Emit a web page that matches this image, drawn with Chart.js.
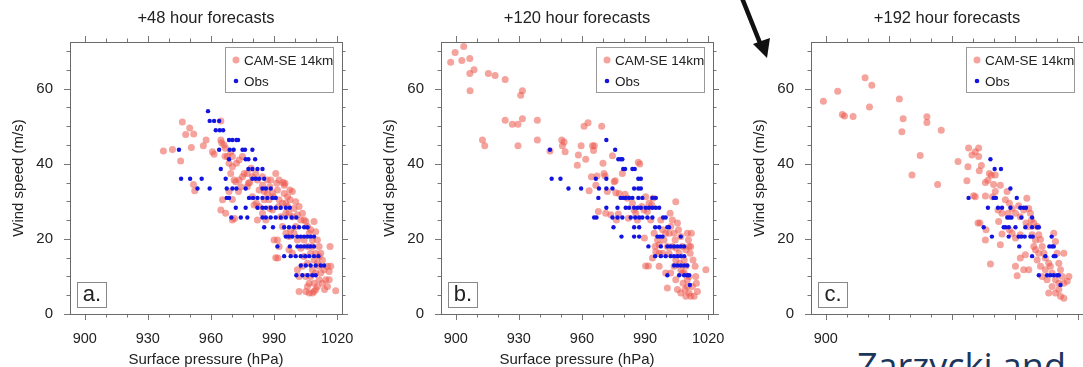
<!DOCTYPE html>
<html>
<head>
<meta charset="utf-8">
<script src="https://cdn.jsdelivr.net/npm/chart.js@4.4.1/dist/chart.umd.min.js"></script>
<style>
  body { margin:0; width:1083px; height:367px; overflow:hidden; background:#fff; position:relative; }
  canvas { position:absolute; top:0; }
  #cover { position:absolute; left:846px; top:323px; width:240px; height:44px; background:#fff; }
  #note { position:absolute; left:857px; top:348px; font-family:'Open Sans'; font-size:36px; line-height:1; color:#1b365d; white-space:nowrap; }
  #arrow { position:absolute; left:0; top:0; }
</style>
</head>
<body>
<canvas id="pa" width="372" height="367" style="left:0px"></canvas>
<canvas id="pb" width="372" height="367" style="left:371px"></canvas>
<canvas id="pc" width="372" height="367" style="left:741px"></canvas>
<div id="cover"></div>
<div id="note">Zarzycki and</div>
<svg id="arrow" width="1083" height="367">
  <line x1="742" y1="-2" x2="760" y2="43" stroke="#111" stroke-width="4.5"/>
  <polygon points="753,44 770,38 767,58" fill="#111"/>
</svg>
<script>
const titles = ["+48 hour forecasts", "+120 hour forecasts", "+192 hour forecasts"];
const panelLabels = ["a.", "b.", "c."];
const seriesNames = ["CAM-SE 14km", "Obs"];
const xTicks = [900, 930, 960, 990, 1020];
const yTicks = [0, 20, 40, 60];
const xMinor = [900, 910, 920, 930, 940, 950, 960, 970, 980, 990, 1000, 1010, 1020];
const yMinor = [0, 5, 10, 15, 20, 25, 30, 35, 40, 45, 50, 55, 60, 65, 70];

// panel a: +48 h  [pressure hPa, wind m/s]
const camA = [[937.4,43.4],[941.7,43.8],[945.6,40.7],[946.4,51.1],[948,47.8],[949.9,49.5],[951.8,47.9],[950.7,44.3],[951.7,34.5],[952.3,32.8],[956.4,44.8],[957.7,46.3],[960.7,43.2],[961.5,42.5],[964.7,51.4],[964.7,46.3],[965.1,45.6],[964.7,27.7],[966.2,45],[966.7,42],
[967.8,41.9],[968.6,40.1],[969.4,37.4],[970.2,39.2],[971,35.7],[971.8,35.2],[972.1,40.1],[973.4,35.7],[973.1,32.6],[974.2,33.9],[975,36.5],[975.8,37.4],[977.3,37.4],[977.8,34.8],[978.4,35],[979.1,38.8],[979.7,36.5],[981.3,37.4],[982.1,35.7],[982.9,33],[984.5,34.3],[985.3,32.6],[986.8,32.1],[988,33.9],[989.2,32.3],[989.7,31.2],[990.8,37.4],[991.3,34.8],[991.6,33],[992.4,30.4],[994,29.5],[994.8,34.3],[995.6,29.5],[996.4,28.6],[997.1,26.8],[997.6,30.4],[998.7,32.6],[999.5,28.1],[1000.3,29.9],[1001.1,26.4],[1001.9,28.6],[1002.7,25],[1003.5,26.8],[1004.3,25],[1005.1,24.6],[1005.9,23.3],[1006.7,21.5],[1007.4,22.4],[1008.2,19.7],[1009,24.6],[1009.8,21.9],[1010.6,19.7],[1011.4,18],[1012.2,16.2],[1013,14.4],[1013.8,11.8],[1015.4,12.7],[1016.2,9.1],[1009,8.2],[1006.7,5.6],[1008.2,5.6],[1009.8,6.5],[1010.6,7.3],[1011.4,9.1],[1007.4,10],[1008.2,11.8],[1005.1,10],[1003.5,12.7],[1001.9,10],[1001.1,11.8],[998.7,16.2],[997.1,17.1],[995.6,21.5],[994,23.3],[991.6,19.7],[992.4,18],[991.8,14.9],[988,28.1],[986.1,25],[984.5,26.8],[982.1,25],[981.6,29.5],[979.7,31.2],[977.3,33.9],[970.2,30.5],[968.6,32.6],[965.5,30.4],[967,26.8],[971.2,25.4],
[1004.3,19.7],[1005.9,18],[1007.4,16.2],[1009,14.4],[1010.6,13.5],[1012.2,10.9],[1009.8,10.9],[1011.4,12.7],[1005.9,13.5],[1004.3,15.3],[1002.7,17.5],[1001.1,19.7],[999.5,21.5],[997.9,22.4],[997.1,20.6],[1000.3,23.3],[1006.7,8.2],[1009,6],[1013,8.2],[1014.6,9.1],[1008.2,18],[1009.8,16.2],[1011.4,15.3],[998.7,25.9],[995.6,26.8],[993.2,25.9],[994.8,32.1],[995.2,34.8],[996.4,31.2],[997.5,33],[992.1,28.6],[989.2,27.7],[987.6,30.4],[985.3,30.4],[982.9,28.6],[980.5,29],[973.4,41],[975,41.9],[970.2,41.9],[969.4,43.2],[966.9,44.1],[970.2,25],[990.8,15],[990,19.7],[1001.9,6],[1005.1,6],[1005.9,7.3],[1019.3,6.2],[1016.6,18],[1014,6.5],[1016.9,12.7],[1016.2,11.3],[1015.4,7.3],[984.5,36.5],[986.8,35.7],[988.4,35.7],[992.4,35.7],[994.3,35]];
const obsA = [[958.6,54],
[959.4,51.4],[961.5,51.4],[963.9,51.4],
[962.3,48.9],[964.2,48.9],[965.8,48.9],
[968.6,46.3],[970.2,46.3],[972.1,46.3],[972.9,46.3],
[944.8,43.7],[963.9,43.7],[968.9,43.7],[970.8,43.7],[975,43.7],[976.2,43.7],[979.7,43.7],
[968.6,41.2],[976.5,41.2],[977.8,41.2],[981,41.2],
[964.7,38.6],[977.8,38.6],[979.7,38.6],[982.1,38.6],[984.5,38.6],
[945.8,36],[950.1,36],[955.6,36],[967,36],[979.7,36],[981.3,36],[982.9,36],[985.3,36],
[953.6,33.4],[959.4,33.4],[967.5,33.4],[970.2,33.4],[972.1,33.4],[976.5,33.4],[984.5,33.4],[986.1,33.4],[988.4,33.4],
[967.5,30.9],[968.6,30.9],[978.1,30.9],[980,30.9],[982.1,30.9],[984.5,30.9],[986.8,30.9],[989.2,30.9],[990.8,30.9],
[971.8,28.3],[976.5,28.3],[982.1,28.3],[984.5,28.3],[986.1,28.3],[988.4,28.3],[990.8,28.3],[993.2,28.3],[995.6,28.3],[997.5,28.3],
[969.7,25.7],[974.2,25.7],[977.3,25.7],[984.5,25.7],[986.1,25.7],[988.4,25.7],[990.8,25.7],[993.2,25.7],[995.6,25.7],[998.4,25.7],[1000.6,25.7],
[985.3,23.1],[989.5,23.1],[994.8,23.1],[997.1,23.1],[999.5,23.1],[1001.9,23.1],[1004.3,23.1],[1005.9,23.1],
[995.6,20.6],[997.1,20.6],[998.7,20.6],[1001.1,20.6],[1002.7,20.6],[1004.3,20.6],[1005.9,20.6],[1007.4,20.6],[1009,20.6],
[991.6,18],[997.5,18],[1001.1,18],[1002.7,18],[1004.3,18],[1005.9,18],[1007.4,18],[1009,18],
[994.8,15.4],[997.9,15.4],[1000.3,15.4],[1002.7,15.4],[1004.8,15.4],[1006.7,15.4],[1009,15.4],[1011.1,15.4],
[1002.7,12.9],[1005.1,12.9],[1007.4,12.9],[1009.8,12.9],[1012.2,12.9],[1013.8,12.9],
[1000.6,10.3],[1003.5,10.3],[1005.9,10.3],[1008.2,10.3],[1009.8,10.3]];

// panel b: +120 h
const camB = [[897.6,67],[899.7,69.6],[902.9,67.5],[903.8,71.2],[906.7,68],[906.7,64],[906.8,59.4],[908.7,65],[912.7,46.3],[913.8,44.8],[915.5,64],[918.7,63.5],[923.5,62.4],[923.5,51.6],[926.9,50.5],[929.6,50.5],[929.6,44.8],[930.9,58.2],[931.7,59.4],[931.7,52],[938.8,51.6],[938.8,46.3],[944.8,43.4],
[950.4,46.3],[950.7,44.8],[951.5,45.8],[952,43.2],[957.8,39.6],[958.3,42.3],[959.6,44.8],[961,50],[962.9,50.9],[961.8,41.2],[963.4,32.8],[964.5,36.5],[965,44.8],[965.5,43.5],[965.9,44.8],[966.6,34.3],[967.2,36.7],[967.8,27.3],[969.4,50],[970,40.1],[970.5,37.4],[971,36.7],[971.3,26.8],[972.1,32.6],[973.7,26.4],[974.5,42.1],[975.3,35.2],[975.8,35.5],[976.1,32.3],[976.4,25],[977.3,26.6],[977.7,32.1],[979.2,37.4],[980.5,31.9],[981.6,30.8],[982.1,25.5],[984,29.5],[984.8,27.7],[985.6,26.8],[986.4,25],[986.8,40.4],[987.5,39.9],[988.4,28.6],[989.5,27.7],[989.7,20.2],[990.3,31.2],[991.1,27.3],[991.9,29.5],[992.7,25],[993.2,29],[993.8,30.8],[994.3,21.5],
[990.3,12.8],[991.6,12.8],[993.5,14.9],[995.1,16.6],[996.7,18.4],[996.7,12.7],[997.5,25],[998.3,22.4],[999,19.7],[999.8,21.5],[1000.6,18],[1000.6,6.9],[1001.4,16.2],[1001.9,26.8],[1002.2,23.3],[1003,25],[1003.8,21.5],[1004.3,19.7],[1004.6,29.9],[1004.9,17.5],[1005.4,24.2],[1005.9,22.4],[1006.2,16.2],[1006.5,13.5],[1007,20.6],[1007.8,18],[1007.8,10.9],[1008.1,8.2],[1008.6,14.4],[1009,6.5],[1009.4,12.7],[1010.1,9.1],[1010.6,19.7],[1010.9,5.6],[1011.4,16.2],[1011.7,4.7],[1012,21.5],[1012.5,7.3],[1012.8,14.4],[1013.3,4.7],[1013.8,12.7],[1014.1,10],[1014.4,8.2],[1014.9,6],[1018.9,11.8],
[1004.6,9.1],[1005.4,6.5],[1007,5.6],[1009.4,4.7],[1010.1,7.3],[1008.6,10.9],[1010.9,10],[1004.6,14.4],[1003.8,12.7],[1002.2,10.9],[1007,11.8],[1009.4,17.1],[1010.9,18],[1010.1,21.5],[1011.7,18],[996.7,16.2],[998.3,16.2],[995.9,19.7],[994.8,18],[999.8,10.9],[1001.4,21.5],[1003,18]];
const obsB = [[971.6,46.3],
[944.8,43.7],[975.8,43.7],
[977.3,41.2],[978.4,41.2],[979.2,41.2],
[979.6,38.6],[980.5,38.6],[984,38.6],[985.1,38.6],
[945.6,36],[949.8,36],[966.6,36],[971.6,36],[986.8,36],[988,36],
[953.6,33.4],[959.6,33.4],[968.1,33.4],[971.6,33.4],[974.5,33.4],[984.8,33.4],[986.8,33.4],[988,33.4],
[967.8,30.9],[978.4,30.9],[979.6,30.9],[980.8,30.9],[982.4,30.9],[984,30.9],[986.8,30.9],[988.7,30.9],[993.5,30.9],[995.1,30.9],
[971.6,28.3],[976.9,28.3],[980.8,28.3],[982.4,28.3],[984.8,28.3],[986.4,28.3],[988,28.3],[990.3,28.3],[991.9,28.3],[993.5,28.3],[995.1,28.3],[996.7,28.3],
[965.8,25.7],[966.9,25.7],[974.5,25.7],[976.9,25.7],[979.2,25.7],[983.2,25.7],[985.3,25.7],[987.2,25.7],[988.7,25.7],[991.1,25.7],[993.5,25.7],[998.6,25.7],[999.8,25.7],
[975,23.1],[984.8,23.1],[987.2,23.1],[994.8,23.1],[996.7,23.1],[1000.6,23.1],[1001.4,23.1],
[978.8,20.6],[984.8,20.6],[987.2,20.6],[995.9,20.6],[997.1,20.6],[998.3,20.6],[1007,20.6],
[991.6,18],[997.5,18],[1000.6,18],[1002.2,18],[1003.8,18],[1005.4,18],[1007,18],[1008.6,18],
[994.8,15.4],[997.5,15.4],[999.8,15.4],[1002.2,15.4],[1003.8,15.4],[1005.4,15.4],[1007,15.4],[1008.6,15.4],
[1003.8,12.9],[1005.4,12.9],[1007,12.9],[1008.6,12.9],[1010.1,12.9],
[1000.6,10.3],[1006.2,10.3],[1008.6,10.3],[1010.1,10.3],[1010.9,10.3],
[1011.3,7.7]];

// panel c: +192 h
const camC = [[898.9,56.6],[905.7,59.3],[907.9,53.1],[908.9,52.7],[913,52.6],[918.7,62.9],[920.8,55.1],[921.9,60.9],[935,57.2],[936.2,48.5],[936.8,52],[941,37],[944.9,42.2],[948.1,52.5],[948.1,51],[953.2,34.5],[954.9,48.9],[962.9,40.6],[967.1,35.5],[967.9,44.2],[967.6,39.2],[972.4,24.2],[969.5,42.3],
[971.1,43.2],[972.7,44.2],[972.7,41.9],[973,38.1],[970.3,31.5],[971.1,31.2],[975.9,31.4],[974,39.5],[975.9,35],[977.1,35.6],[977.8,37.4],[978.7,36.9],[980.6,37],[979.8,34.5],[980.6,32.6],[983,34.3],[985.4,30.4],[986.2,32.6],[987.3,29.5],[988.6,28.1],[990.2,26.8],[991.7,28.8],[992.5,25.9],[994.1,27.7],[995.6,30.8],[996.5,28.1],[997.3,26.8],[997.8,25],[998.9,24.2],[1000.5,23.3],[1001.3,21.1],[1002.1,19.8],[1002.9,18],[1003.7,16.2],[1004.4,14.9],[1006,13.5],[1006.8,12.7],[1007.6,10.9],[1008.4,21.5],[1009.2,19.3],[1010,16.2],[1010.8,13.5],[1011.6,11.8],[1012.4,10],[1013.2,16.2],[1013.2,8.2],[1014.8,8.7],[1015.6,10],[1010.8,6.5],[1011.6,4.7],[1013.2,4.2],[1009.2,5.6],[1006,5.6],[1007.6,7.3],[1005.2,9.1],[1002.9,10],[1001.3,16.2],[999.7,17.1],[998.9,18],[1000.5,14.4],[1002.1,12.7],[1004.4,11.8],[1009.2,9.1],[1010.8,8.2],
[973.3,24.2],[975.9,19.7],[976.2,22.4],[978.3,13.3],[983,18.4],[983.8,21.3],[986.7,26.8],[987.3,22.4],[990.2,12.7],[991,10.2],[992.5,14.9],[994.1,11.8],[995.2,24.2],[996.5,23.3],[996.5,11.8],[994.9,15.8],[998.1,21.1],[982.2,24.6],[983.8,26.8],[979.3,31.2],[981.9,27.7],[988.6,21.5],[990.2,20.2],[992.5,21.1],[999.7,19.7]];
const obsC = [[978.3,41.2],
[980.3,38.6],[983.3,38.6],
[987.8,33.4],
[967.9,30.9],[979.8,30.9],[980.9,30.9],[990.8,30.9],
[977.1,28.3],[981.9,28.3],[983.8,28.3],[987.8,28.3],[992.5,28.3],[994.1,28.3],[995.2,28.3],
[986.3,25.7],[987.3,25.7],[988.3,25.7],[993,25.7],[998.1,25.7],
[975.1,23.1],[984.6,23.1],[985.4,23.1],[987,23.1],[990.2,23.1],[994.9,23.1],[998.1,23.1],[1000.5,23.1],[1001.3,23.1],
[979,20.6],[987,20.6],[991.7,20.6],[993,20.6],[994.6,20.6],[997.3,20.6],[998.4,20.6],[1007.4,20.6],
[992,18],[1006.3,18],[1007.6,18],[1008.4,18],
[998.1,15.4],[1004.4,15.4],[1008.4,15.4],[1009.2,15.4],
[1001.3,10.3],[1005.2,10.3],[1006.8,10.3],[1008.4,10.3],[1010,10.3],[1010.8,10.3],
[1011.6,7.7]];

const camColor = 'rgba(236,88,76,0.55)';
const obsColor = '#1414e0';
const inkColor = '#222';
const fontFam = '"Liberation Sans", Arial, sans-serif';

const frame = {
  id: 'frame',
  afterDatasetsDraw(chart, args, opts) {
    const {ctx, chartArea: a, scales: {x, y}} = chart;
    ctx.save();
    ctx.lineWidth = 1;
    ctx.strokeStyle = '#777';
    ctx.beginPath();
    xMinor.forEach(v => {
      const px = Math.round(x.getPixelForValue(v)) + 0.5;
      const len = xTicks.includes(v) ? 6 : 3.5;
      ctx.moveTo(px, a.bottom); ctx.lineTo(px, a.bottom + len);
      ctx.moveTo(px, a.top); ctx.lineTo(px, a.top - len);
    });
    yMinor.forEach(v => {
      const py = Math.round(y.getPixelForValue(v)) + 0.5;
      const len = yTicks.includes(v) ? 6 : 3.5;
      ctx.moveTo(a.left, py); ctx.lineTo(a.left - len, py);
      ctx.moveTo(a.right, py); ctx.lineTo(a.right + len, py);
    });
    ctx.stroke();
    ctx.strokeStyle = '#6a6a6a';
    ctx.strokeRect(Math.round(a.left) + 0.5, Math.round(a.top) + 0.5,
                   Math.round(a.right - a.left), Math.round(a.bottom - a.top));
    ctx.restore();
  },
  afterDraw(chart, args, opts) {
    const {ctx, chartArea: a} = chart;
    ctx.save();
    // legend box, top right inside the plot
    const bx = Math.round(a.right) - 117, by = Math.round(a.top) + 5;
    ctx.fillStyle = '#fff';
    ctx.fillRect(bx, by, 108, 45);
    ctx.strokeStyle = '#999';
    ctx.lineWidth = 1;
    ctx.strokeRect(bx + 0.5, by + 0.5, 108, 45);
    ctx.font = '13.5px ' + fontFam;
    ctx.textBaseline = 'middle';
    ctx.textAlign = 'left';
    ctx.fillStyle = camColor;
    ctx.beginPath(); ctx.arc(bx + 11, by + 13, 3.5, 0, Math.PI * 2); ctx.fill();
    ctx.fillStyle = obsColor;
    ctx.beginPath(); ctx.arc(bx + 11, by + 34, 2.3, 0, Math.PI * 2); ctx.fill();
    ctx.fillStyle = inkColor;
    ctx.fillText(seriesNames[0], bx + 19, by + 14);
    ctx.fillText(seriesNames[1], bx + 19, by + 35);
    // panel letter, bottom left
    const lx = Math.round(a.left) + 7, ly = Math.round(a.bottom) - 32;
    ctx.strokeStyle = '#888';
    ctx.strokeRect(lx + 0.5, ly + 0.5, 29, 25);
    ctx.font = '22px ' + fontFam;
    ctx.textAlign = 'center';
    ctx.fillText(opts.label, lx + 15, ly + 13);
    ctx.restore();
  }
};

function makePanel(id, idx, cam, obs) {
  const ctx = document.getElementById(id).getContext('2d');
  return new Chart(ctx, {
    type: 'scatter',
    data: {
      datasets: [
        { label: seriesNames[1], data: obs.map(p => ({x: p[0], y: p[1]})),
          backgroundColor: obsColor, borderWidth: 0, pointRadius: 2.2, order: 0 },
        { label: seriesNames[0], data: cam.map(p => ({x: p[0], y: p[1]})),
          backgroundColor: camColor, borderWidth: 0, pointRadius: 3.5, order: 1 }
      ]
    },
    options: {
      responsive: false,
      animation: false,
      layout: { padding: { left: 0, right: 30, top: 0, bottom: 0 } },
      plugins: {
        legend: { display: false },
        tooltip: { enabled: false },
        title: {
          display: true, text: titles[idx], fullSize: false, color: inkColor,
          font: { family: fontFam, size: 16.5, weight: 'normal', lineHeight: 1.2 },
          padding: { top: 8.5, bottom: 13.7 }
        },
        frame: { label: panelLabels[idx] }
      },
      scales: {
        x: {
          type: 'linear', min: 893, max: 1022.3,
          afterBuildTicks: s => { s.ticks = xTicks.map(v => ({value: v})); },
          afterFit: s => { s.height = 53; },
          grid: { display: false, drawTicks: false },
          border: { display: false },
          ticks: { color: inkColor, padding: 16, font: { family: fontFam, size: 14.5 },
                    callback: v => String(v) },
          title: { display: true, text: 'Surface pressure (hPa)', color: inkColor,
                   font: { family: fontFam, size: 15, lineHeight: 1 }, padding: 0 }
        },
        y: {
          type: 'linear', min: 0, max: 72.4,
          afterBuildTicks: s => { s.ticks = yTicks.map(v => ({value: v})); },
          afterFit: s => { s.width = 70; },
          grid: { display: false, drawTicks: false },
          border: { display: false },
          ticks: { color: inkColor, padding: 17, font: { family: fontFam, size: 15 },
                    callback: v => String(v) },
          title: { display: true, text: 'Wind speed (m/s)', color: inkColor,
                   font: { family: fontFam, size: 15, lineHeight: 1.2 }, padding: { top: 10, bottom: 0 } }
        }
      }
    },
    plugins: [frame]
  });
}

makePanel('pa', 0, camA, obsA);
makePanel('pb', 1, camB, obsB);
makePanel('pc', 2, camC, obsC);
</script>
</body>
</html>
